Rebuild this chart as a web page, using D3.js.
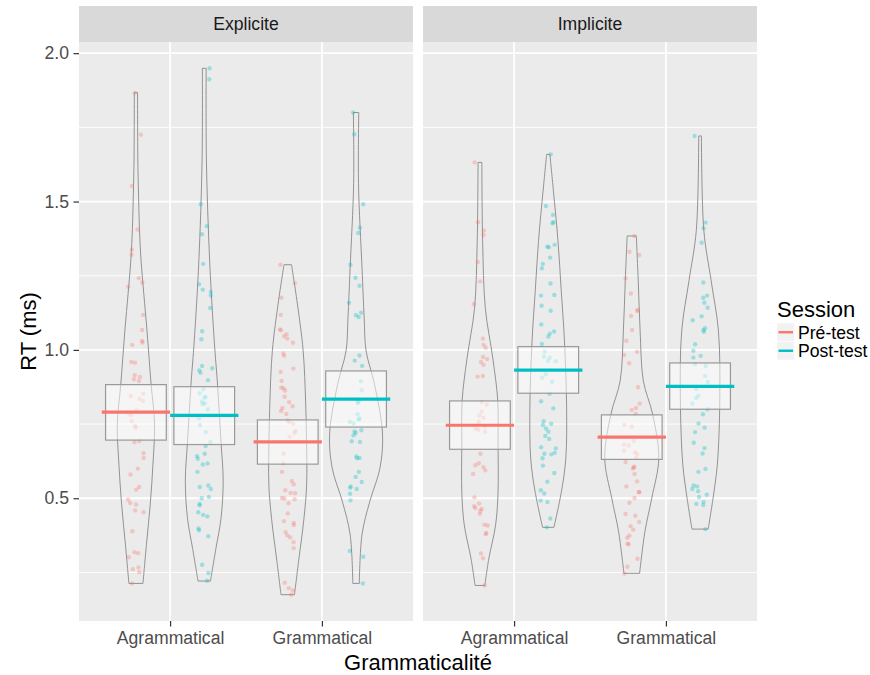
<!DOCTYPE html>
<html><head><meta charset="utf-8">
<script src="https://cdn.jsdelivr.net/npm/d3@7"></script>
<style>body{margin:0;background:#fff}svg{display:block;font-family:"Liberation Sans",Arial,Helvetica,sans-serif}</style>
</head><body><svg id="chart" width="870" height="675"></svg>
<script>
const facets = ["Explicite", "Implicite"];
const categories = ["Agrammatical", "Grammatical"];
const sessions = ["Pré-test", "Post-test"];
const sessionColors = ["#F8766D", "#00BFC4"];
const yTicks = [0.5, 1.0, 1.5, 2.0];
const yMinorTicks = [0.25, 0.75, 1.25, 1.75];
const xTitle = "Grammaticalité";
const yTitle = "RT (ms)";
const legendTitle = "Session";

// order: Explicite/Agr/Pré, Explicite/Agr/Post, Explicite/Gram/Pré, Explicite/Gram/Post, Implicite/...
const meanRT = [0.790, 0.779, 0.690, 0.834, 0.746, 0.932, 0.706, 0.877];
const ciLow  = [0.696, 0.681, 0.615, 0.740, 0.665, 0.854, 0.631, 0.800];
const ciHigh = [0.883, 0.876, 0.764, 0.929, 0.828, 1.011, 0.781, 0.956];

const rtExpAgrPre = [1.866,1.725,1.552,1.406,1.338,1.321,1.227,1.242,1.213,1.118,1.067,1.030,1.025,1.017,0.959,0.957,0.915,0.909,0.901,0.895,0.852,0.845,0.835,0.828,0.796,0.788,0.780,0.760,0.743,0.738,0.693,0.689,0.652,0.636,0.600,0.580,0.538,0.529,0.496,0.484,0.479,0.459,0.453,0.389,0.318,0.315,0.301,0.267,0.261,0.251,0.213];
const rtExpAgrPost = [1.949,1.912,1.491,1.417,1.390,1.290,1.221,1.203,1.195,1.183,1.141,1.063,1.036,0.946,0.938,0.931,0.923,0.898,0.867,0.854,0.842,0.839,0.825,0.820,0.817,0.800,0.769,0.746,0.723,0.689,0.676,0.650,0.642,0.633,0.617,0.614,0.589,0.543,0.538,0.531,0.504,0.500,0.481,0.476,0.453,0.444,0.439,0.398,0.392,0.372,0.276,0.248,0.222];
const rtExpGramPre = [1.287,1.225,1.176,1.118,1.069,1.066,1.053,1.046,1.038,1.024,0.988,0.980,0.937,0.926,0.895,0.873,0.871,0.863,0.842,0.824,0.810,0.804,0.794,0.784,0.762,0.758,0.751,0.727,0.720,0.707,0.650,0.618,0.589,0.558,0.547,0.527,0.518,0.517,0.501,0.499,0.497,0.483,0.449,0.423,0.417,0.410,0.386,0.375,0.368,0.352,0.332,0.215,0.197,0.189,0.175];
const rtExpGramPost = [1.800,1.727,1.491,1.412,1.394,1.287,1.243,1.216,1.159,1.125,1.117,1.111,0.981,0.964,0.946,0.894,0.864,0.833,0.822,0.824,0.783,0.769,0.765,0.758,0.752,0.729,0.725,0.720,0.712,0.692,0.690,0.636,0.635,0.641,0.589,0.572,0.555,0.540,0.535,0.531,0.515,0.493,0.322,0.303,0.213];
const rtImpAgrPre = [1.632,1.430,1.402,1.387,1.296,1.231,1.154,1.038,1.017,1.007,0.976,0.969,0.959,0.950,0.912,0.910,0.824,0.815,0.792,0.779,0.771,0.758,0.742,0.735,0.731,0.724,0.650,0.618,0.611,0.605,0.594,0.582,0.503,0.482,0.473,0.467,0.464,0.458,0.448,0.411,0.408,0.383,0.379,0.314,0.298,0.206];
const rtImpAgrPost = [1.659,1.485,1.455,1.430,1.427,1.354,1.348,1.346,1.311,1.290,1.275,1.224,1.185,1.183,1.149,1.132,1.086,1.055,1.062,1.045,1.020,0.994,0.977,0.974,0.963,0.962,0.918,0.906,0.893,0.852,0.827,0.803,0.760,0.751,0.747,0.735,0.724,0.710,0.700,0.672,0.668,0.653,0.650,0.648,0.635,0.610,0.585,0.556,0.527,0.516,0.492,0.487,0.432,0.402];
const rtImpGramPre = [1.384,1.331,1.320,1.241,1.190,1.135,1.131,1.114,1.067,1.031,0.994,0.983,0.955,0.874,0.819,0.804,0.798,0.784,0.747,0.741,0.693,0.681,0.678,0.661,0.655,0.649,0.636,0.622,0.606,0.604,0.600,0.582,0.557,0.540,0.521,0.520,0.501,0.485,0.447,0.441,0.420,0.406,0.394,0.374,0.367,0.347,0.345,0.296,0.269,0.246];
const rtImpGramPost = [1.721,1.429,1.410,1.361,1.227,1.183,1.176,1.159,1.142,1.113,1.100,1.073,1.067,1.061,1.019,0.997,0.980,0.974,0.952,0.946,0.912,0.892,0.868,0.846,0.838,0.819,0.800,0.783,0.752,0.738,0.723,0.687,0.669,0.651,0.599,0.589,0.543,0.540,0.531,0.524,0.512,0.504,0.487,0.481,0.477,0.396];

// violin density profiles: [RT, relative density]
const densExpAgrPre = [[1.867,0.06],[1.64,0.07],[1.55,0.09],[1.41,0.13],[1.30,0.19],[1.19,0.29],[1.064,0.41],[0.885,0.56],[0.75,0.69],[0.615,0.63],[0.48,0.53],[0.345,0.39],[0.213,0.26]];
const densExpAgrPost = [[1.949,0.07],[1.64,0.08],[1.30,0.20],[1.03,0.37],[0.885,0.49],[0.69,0.62],[0.557,0.70],[0.432,0.62],[0.33,0.43],[0.221,0.23]];
const densExpGramPre = [[1.287,0.14],[1.257,0.19],[1.166,0.34],[0.997,0.57],[0.828,0.66],[0.716,0.69],[0.547,0.70],[0.432,0.60],[0.287,0.40],[0.175,0.25]];
const densExpGramPost = [[1.80,0.10],[1.56,0.09],[1.277,0.22],[1.108,0.30],[0.997,0.37],[0.885,0.68],[0.716,0.98],[0.60,0.88],[0.49,0.51],[0.378,0.22],[0.213,0.12]];
const densImpAgrPre = [[1.632,0.07],[1.368,0.10],[1.14,0.20],[0.97,0.48],[0.828,0.66],[0.69,0.67],[0.52,0.67],[0.41,0.58],[0.297,0.33],[0.206,0.18]];
const densImpAgrPost = [[1.659,0.06],[1.537,0.19],[1.368,0.36],[1.2,0.48],[1.03,0.60],[0.804,0.68],[0.635,0.65],[0.524,0.49],[0.402,0.21]];
const densImpGramPre = [[1.384,0.17],[1.233,0.24],[1.064,0.31],[0.895,0.43],[0.784,0.77],[0.635,1.0],[0.5,0.74],[0.389,0.49],[0.247,0.29]];
const densImpGramPost = [[1.721,0.05],[1.402,0.14],[1.233,0.41],[1.064,0.68],[0.838,0.73],[0.615,0.64],[0.50,0.48],[0.396,0.30]];

const pointSets = [rtExpAgrPre, rtExpAgrPost, rtExpGramPre, rtExpGramPost, rtImpAgrPre, rtImpAgrPost, rtImpGramPre, rtImpGramPost];
const densSets = [densExpAgrPre, densExpAgrPost, densExpGramPre, densExpGramPost, densImpAgrPre, densImpAgrPost, densImpGramPre, densImpGramPost];

const groups = [];
let gi = 0;
facets.forEach(f => categories.forEach(c => sessions.forEach(s => {
  groups.push({facet: f, cat: c, session: s, pts: pointSets[gi], dens: densSets[gi], mean: meanRT[gi], lo: ciLow[gi], hi: ciHigh[gi]});
  gi++;
})));

const svg = d3.select("#chart");
const panelTop = 42, panelBottom = 621, stripTop = 6;

const fx = d3.scaleBand().domain(facets).range([79, 757]).paddingInner(10 / 344);
const bw = fx.bandwidth();
const xc = d3.scalePoint().domain(categories).range([0, bw]).padding(0.6);
const step = xc.step();
const xs = d3.scaleBand().domain(sessions).range([-0.45 * step, 0.45 * step]);
const color = d3.scaleOrdinal().domain(sessions).range(sessionColors);

const allVals = pointSets.flat();
const ext = d3.extent(allVals);
const pad = (ext[1] - ext[0]) * 0.05;
const y = d3.scaleLinear().domain([ext[0] - pad, ext[1] + pad]).range([panelBottom, panelTop]);
const wScale = d3.scaleLinear().domain([0, 1]).range([0, 0.178 * step]);

const center = g => fx(g.facet) + xc(g.cat) + xs(g.session) + xs.bandwidth() / 2;

// panels
facets.forEach(f => {
  const p = svg.append("g").attr("transform", `translate(${fx(f)},0)`);
  p.append("rect").attr("x", 0).attr("y", stripTop).attr("width", bw).attr("height", panelTop - stripTop).attr("fill", "#d9d9d9");
  p.append("text").attr("x", bw / 2).attr("y", (stripTop + panelTop) / 2 + 6).attr("text-anchor", "middle")
    .attr("font-size", 17.6).attr("fill", "#1a1a1a").text(f);
  p.append("rect").attr("x", 0).attr("y", panelTop).attr("width", bw).attr("height", panelBottom - panelTop).attr("fill", "#ebebeb");
  p.selectAll(".gminor").data(yMinorTicks).join("line")
    .attr("x1", 0).attr("x2", bw).attr("y1", d => y(d)).attr("y2", d => y(d))
    .attr("stroke", "#fff").attr("stroke-width", 0.9);
  p.selectAll(".gmajor").data(yTicks).join("line")
    .attr("x1", 0).attr("x2", bw).attr("y1", d => y(d)).attr("y2", d => y(d))
    .attr("stroke", "#fff").attr("stroke-width", 1.8);
  p.selectAll(".gx").data(categories).join("line")
    .attr("x1", d => xc(d)).attr("x2", d => xc(d)).attr("y1", panelTop).attr("y2", panelBottom)
    .attr("stroke", "#fff").attr("stroke-width", 1.8);
  const ax = p.append("g").attr("transform", `translate(0,${panelBottom})`)
    .call(d3.axisBottom(xc).tickSize(5.5).tickPadding(5));
  ax.select(".domain").remove();
  ax.selectAll(".tick line").attr("stroke", "#333").attr("stroke-width", 1.2);
  ax.selectAll(".tick text").attr("fill", "#4d4d4d").attr("font-size", 17.6).attr("font-family", "Liberation Sans, Arial, sans-serif");
});

// y axis
const ay = svg.append("g").attr("transform", `translate(${fx(facets[0])},0)`)
  .call(d3.axisLeft(y).tickValues(yTicks).tickFormat(d3.format(".1f")).tickSize(5.5).tickPadding(4.5));
ay.select(".domain").remove();
ay.selectAll(".tick line").attr("stroke", "#333").attr("stroke-width", 1.2);
ay.selectAll(".tick text").attr("fill", "#4d4d4d").attr("font-size", 17.6).attr("font-family", "Liberation Sans, Arial, sans-serif");

// violins
const area = d3.area().curve(d3.curveCatmullRom);
groups.forEach(g => {
  const c = center(g);
  svg.append("path")
    .attr("d", area.y(d => y(d[0])).x0(d => c - wScale(d[1])).x1(d => c + wScale(d[1]))(g.dens))
    .attr("fill", "none").attr("stroke", "#888").attr("stroke-opacity", 0.9).attr("stroke-width", 1);
});

// jittered points
const rnd = d3.randomLcg(0.4217);
groups.forEach(g => {
  const c = center(g);
  svg.append("g").selectAll("circle").data(g.pts).join("circle")
    .attr("cx", () => c + (rnd() * 2 - 1) * 0.053 * step)
    .attr("cy", d => y(d)).attr("r", 2.2)
    .attr("fill", color(g.session)).attr("fill-opacity", 0.33);
});

// CI boxes
groups.forEach(g => {
  const c = center(g);
  const hw = 0.2 * step;
  svg.append("rect").attr("x", c - hw).attr("width", 2 * hw)
    .attr("y", y(g.hi)).attr("height", y(g.lo) - y(g.hi))
    .attr("fill", "#fff").attr("fill-opacity", 0.5)
    .attr("stroke", "#999").attr("stroke-width", 1.2);
});

// mean lines
groups.forEach(g => {
  const c = center(g);
  const hw = xs.bandwidth() / 2;
  svg.append("line").attr("x1", c - hw).attr("x2", c + hw)
    .attr("y1", y(g.mean)).attr("y2", y(g.mean))
    .attr("stroke", color(g.session)).attr("stroke-width", 3.2);
});

// axis titles
svg.append("text").attr("x", (fx(facets[0]) + fx(facets[1]) + bw) / 2).attr("y", 670)
  .attr("text-anchor", "middle").attr("font-size", 22).attr("fill", "#000").text(xTitle);
svg.append("text").attr("transform", `translate(36,${(panelTop + panelBottom) / 2}) rotate(-90)`)
  .attr("text-anchor", "middle").attr("font-size", 22).attr("fill", "#000").text(yTitle);

// legend
const lg = svg.append("g").attr("transform", "translate(777,0)");
lg.append("text").attr("x", 0).attr("y", 317).attr("font-size", 22).attr("fill", "#000").text(legendTitle);
sessions.forEach((s, i) => {
  const ky = 323 + i * 18.5;
  lg.append("rect").attr("x", 0).attr("y", ky).attr("width", 17.5).attr("height", 18.5).attr("fill", "#f2f2f2").attr("stroke", "#fff").attr("stroke-width", 0.5);
  lg.append("line").attr("x1", 1.5).attr("x2", 16).attr("y1", ky + 9.25).attr("y2", ky + 9.25)
    .attr("stroke", color(s)).attr("stroke-width", 2.4);
  lg.append("text").attr("x", 21).attr("y", ky + 15.5).attr("font-size", 17.6).attr("fill", "#000").text(s);
});
</script></body></html>
